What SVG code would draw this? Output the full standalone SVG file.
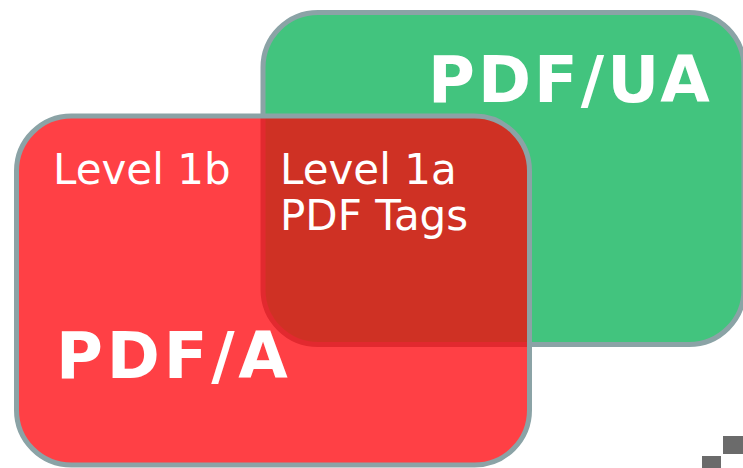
<svg xmlns="http://www.w3.org/2000/svg" width="743" height="468" viewBox="0 0 743 468">
  <style>
    .box { stroke: #8BA3A6; stroke-width: 5; }
    .big { font-family: "DejaVu Sans", Verdana, sans-serif; font-weight: bold; font-size: 64px; fill: #FFFFFF; letter-spacing: 2.8px; }
    .small { font-family: "DejaVu Sans", Verdana, sans-serif; font-size: 42px; fill: #FFFFFF; }
    .logo { fill: #6B6B6B; }
  </style>
  <rect width="743" height="468" fill="#FFFFFF"/>
  <g id="pdfua">
    <rect class="box" x="263" y="12.5" width="481" height="332" rx="55" ry="55" fill="#42C47E"/>
  </g>
  <g id="pdfa">
    <rect class="box" x="16.5" y="116" width="513" height="349" rx="55" ry="55" fill="#FF0007" fill-opacity="0.75"/>
  </g>
  <g id="labels">
    <text class="big" x="428" y="101.5" style="letter-spacing:3px">PDF/UA</text>
    <text class="big" x="56" y="378" style="letter-spacing:3.8px">PDF/A</text>
    <text class="small" x="53" y="184">Level 1b</text>
    <text class="small" x="280" y="184">Level 1a</text>
    <text class="small" x="280" y="230">PDF Tags</text>
  </g>
  <g id="logo">
    <rect class="logo" x="723" y="436" width="20" height="18"/>
    <rect class="logo" x="702" y="456" width="19" height="12"/>
  </g>
  <g id="connectors"/>
</svg>
